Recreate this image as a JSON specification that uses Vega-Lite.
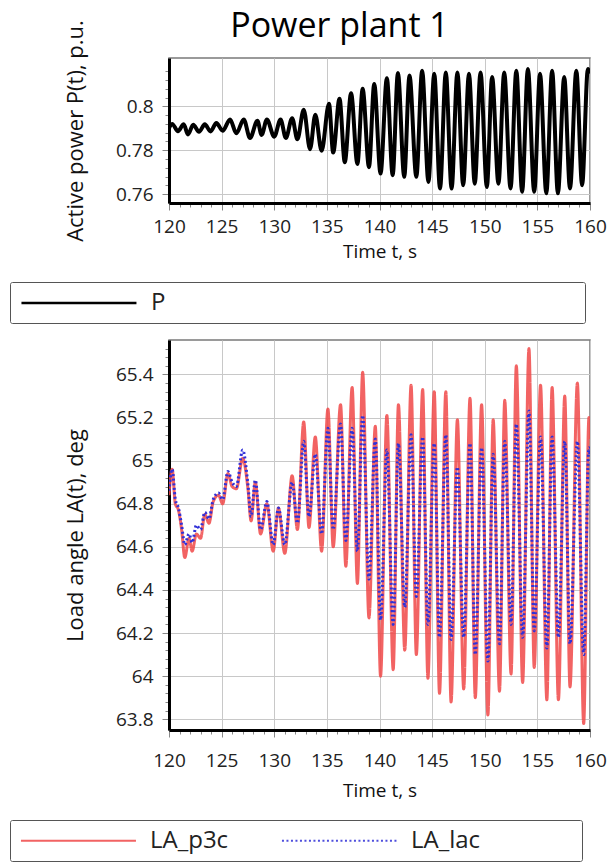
{
  "$schema": "https://vega.github.io/schema/vega-lite/v6.json",
  "background": "white",
  "padding": {"left": 8, "top": 8, "right": 0, "bottom": 0},
  "autosize": {"type": "pad"},
  "spacing": 13,
  "config": {
    "font": "Open Sans",
    "view": {"stroke": "#7a7a7a", "strokeWidth": 1.5},
    "axis": {
      "labelFont": "Open Sans", "labelFontSize": 19, "labelColor": "#222",
      "titleFont": "Open Sans", "titleFontWeight": "normal", "titleColor": "#111",
      "domainColor": "#000", "domainWidth": 3, "tickColor": "#888", "tickWidth": 1,
      "gridColor": "#c8c8c8", "gridWidth": 1, "labelOverlap": false, "labelFlush": false
    }
  },
  "resolve": {"scale": {"color": "independent", "strokeDash": "independent"}},
  "vconcat": [
    {
      "title": {"text": "Power plant 1", "fontSize": 34, "fontWeight": "normal", "font": "Open Sans", "color": "#000", "anchor": "middle", "dx": -40, "offset": -24},
      "width": 421,
      "height": 145,
      "data": {"values": [
        {"t": 120.0, "p": 0.7900, "series": "P"},
        {"t": 120.3, "p": 0.7920, "series": "P"},
        {"t": 120.85, "p": 0.7887, "series": "P"},
        {"t": 121.4, "p": 0.7918, "series": "P"},
        {"t": 121.8, "p": 0.7872, "series": "P"},
        {"t": 122.3, "p": 0.7916, "series": "P"},
        {"t": 122.85, "p": 0.7884, "series": "P"},
        {"t": 123.4, "p": 0.7918, "series": "P"},
        {"t": 123.95, "p": 0.7886, "series": "P"},
        {"t": 124.5, "p": 0.7924, "series": "P"},
        {"t": 125.1, "p": 0.7889, "series": "P"},
        {"t": 125.8, "p": 0.7940, "series": "P"},
        {"t": 126.4, "p": 0.7877, "series": "P"},
        {"t": 127.1, "p": 0.7940, "series": "P"},
        {"t": 127.7, "p": 0.7856, "series": "P"},
        {"t": 128.4, "p": 0.7934, "series": "P"},
        {"t": 128.8, "p": 0.7870, "series": "P"},
        {"t": 129.3, "p": 0.7940, "series": "P"},
        {"t": 130.0, "p": 0.7862, "series": "P"},
        {"t": 130.6, "p": 0.7940, "series": "P"},
        {"t": 131.1, "p": 0.7856, "series": "P"},
        {"t": 131.7, "p": 0.7946, "series": "P"},
        {"t": 132.2, "p": 0.7850, "series": "P"},
        {"t": 132.8, "p": 0.7985, "series": "P"},
        {"t": 133.4, "p": 0.7805, "series": "P"},
        {"t": 133.9, "p": 0.7962, "series": "P"},
        {"t": 134.5, "p": 0.7798, "series": "P"},
        {"t": 135.2, "p": 0.8012, "series": "P"},
        {"t": 135.6, "p": 0.7790, "series": "P"},
        {"t": 136.2, "p": 0.8035, "series": "P"},
        {"t": 136.7, "p": 0.7746, "series": "P"},
        {"t": 137.3, "p": 0.8060, "series": "P"},
        {"t": 137.9, "p": 0.7738, "series": "P"},
        {"t": 138.4, "p": 0.8080, "series": "P"},
        {"t": 139.0, "p": 0.7723, "series": "P"},
        {"t": 139.5, "p": 0.8102, "series": "P"},
        {"t": 140.1, "p": 0.7694, "series": "P"},
        {"t": 140.7, "p": 0.8128, "series": "P"},
        {"t": 141.25, "p": 0.7686, "series": "P"},
        {"t": 141.75, "p": 0.8152, "series": "P"},
        {"t": 142.35, "p": 0.7679, "series": "P"},
        {"t": 142.85, "p": 0.8140, "series": "P"},
        {"t": 143.5, "p": 0.7679, "series": "P"},
        {"t": 144.05, "p": 0.8162, "series": "P"},
        {"t": 144.65, "p": 0.7656, "series": "P"},
        {"t": 145.2, "p": 0.8148, "series": "P"},
        {"t": 145.75, "p": 0.7626, "series": "P"},
        {"t": 146.3, "p": 0.8154, "series": "P"},
        {"t": 146.85, "p": 0.7626, "series": "P"},
        {"t": 147.4, "p": 0.8154, "series": "P"},
        {"t": 147.95, "p": 0.7641, "series": "P"},
        {"t": 148.5, "p": 0.8148, "series": "P"},
        {"t": 149.05, "p": 0.7648, "series": "P"},
        {"t": 149.6, "p": 0.8154, "series": "P"},
        {"t": 150.2, "p": 0.7633, "series": "P"},
        {"t": 150.7, "p": 0.8134, "series": "P"},
        {"t": 151.3, "p": 0.7648, "series": "P"},
        {"t": 151.85, "p": 0.8154, "series": "P"},
        {"t": 152.45, "p": 0.7626, "series": "P"},
        {"t": 153.0, "p": 0.8162, "series": "P"},
        {"t": 153.55, "p": 0.7611, "series": "P"},
        {"t": 154.1, "p": 0.8170, "series": "P"},
        {"t": 154.7, "p": 0.7611, "series": "P"},
        {"t": 155.25, "p": 0.8148, "series": "P"},
        {"t": 155.85, "p": 0.7604, "series": "P"},
        {"t": 156.4, "p": 0.8162, "series": "P"},
        {"t": 156.95, "p": 0.7604, "series": "P"},
        {"t": 157.55, "p": 0.8134, "series": "P"},
        {"t": 158.1, "p": 0.7626, "series": "P"},
        {"t": 158.7, "p": 0.8162, "series": "P"},
        {"t": 159.25, "p": 0.7641, "series": "P"},
        {"t": 159.8, "p": 0.8170, "series": "P"},
        {"t": 160.0, "p": 0.8150, "series": "P"}
      ]},
      "mark": {"type": "line", "strokeWidth": 4, "interpolate": "monotone", "clip": true},
      "encoding": {
        "x": {
          "field": "t", "type": "quantitative", "title": "Time t, s",
          "scale": {"domain": [120, 160], "nice": false, "zero": false},
          "axis": {
            "values": [120,121,122,123,124,125,126,127,128,129,130,131,132,133,134,135,136,137,138,139,140,141,142,143,144,145,146,147,148,149,150,151,152,153,154,155,156,157,158,159,160],
            "labelExpr": "datum.value % 5 == 0 ? datum.label : ''",
            "tickSize": {"condition": {"test": "datum.value % 5 == 0", "value": 7}, "value": 4},
            "gridOpacity": {"condition": {"test": "datum.value % 5 == 0", "value": 1}, "value": 0},
            "labelPadding": 7, "titleFontSize": 19, "titlePadding": 6
          }
        },
        "y": {
          "field": "p", "type": "quantitative", "title": "Active power P(t), p.u.",
          "scale": {"domain": [0.756, 0.822], "nice": false, "zero": false},
          "axis": {
            "values": [0.76,0.764,0.768,0.772,0.776,0.78,0.784,0.788,0.792,0.796,0.8,0.804,0.808,0.812,0.816],
            "labelExpr": "abs(datum.value*50 - round(datum.value*50)) < 0.01 ? format(datum.value, '.2~f') : ''",
            "tickSize": {"condition": {"test": "abs(datum.value*50 - round(datum.value*50)) < 0.01", "value": 7}, "value": 4},
            "gridOpacity": {"condition": {"test": "abs(datum.value*50 - round(datum.value*50)) < 0.01", "value": 1}, "value": 0},
            "labelPadding": 9, "titleFontSize": 22, "titlePadding": 28
          }
        },
        "color": {
          "field": "series", "type": "nominal",
          "scale": {"domain": ["P"], "range": ["#000000"]},
          "legend": {
            "orient": "none", "legendX": -159, "legendY": 224, "direction": "horizontal", "title": null,
            "strokeColor": "#555", "fillColor": "white", "padding": 8, "cornerRadius": 2,
            "symbolType": "M-0.83,0H9.17", "symbolSize": 529, "symbolStrokeWidth": 2.5,
            "labelFont": "Open Sans", "labelFontSize": 24, "labelColor": "#222", "labelOffset": 107, "labelLimit": 2000,
            "labelExpr": "datum.label + '\u00a0\u00a0\u00a0\u00a0\u00a0\u00a0\u00a0\u00a0\u00a0\u00a0\u00a0\u00a0\u00a0\u00a0\u00a0\u00a0\u00a0\u00a0\u00a0\u00a0\u00a0\u00a0\u00a0\u00a0\u00a0\u00a0\u00a0\u00a0\u00a0\u00a0\u00a0\u00a0\u00a0\u00a0\u00a0\u00a0\u00a0\u00a0\u00a0\u00a0\u00a0\u00a0\u00a0\u00a0\u00a0\u00a0\u00a0\u00a0\u00a0\u00a0\u00a0\u00a0\u00a0\u00a0\u00a0\u00a0\u00a0\u00a0\u00a0\u00a0\u00a0\u00a0\u00a0\u00a0\u00a0\u00a0\u200b'"
          }
        }
      }
    },
    {
      "width": 421,
      "height": 390,
      "data": {"values": [
        {"t": 120.0, "la": 64.84, "series": "LA_p3c"}, {"t": 120.0, "la": 64.86, "series": "LA_lac"},
        {"t": 120.3, "la": 64.96, "series": "LA_p3c"}, {"t": 120.3, "la": 64.96, "series": "LA_lac"},
        {"t": 120.6, "la": 64.80, "series": "LA_p3c"}, {"t": 120.6, "la": 64.82, "series": "LA_lac"},
        {"t": 120.9, "la": 64.77, "series": "LA_p3c"}, {"t": 120.9, "la": 64.78, "series": "LA_lac"},
        {"t": 121.2, "la": 64.68, "series": "LA_p3c"}, {"t": 121.2, "la": 64.70, "series": "LA_lac"},
        {"t": 121.5, "la": 64.55, "series": "LA_p3c"}, {"t": 121.5, "la": 64.61, "series": "LA_lac"},
        {"t": 121.9, "la": 64.64, "series": "LA_p3c"}, {"t": 121.9, "la": 64.66, "series": "LA_lac"},
        {"t": 122.2, "la": 64.58, "series": "LA_p3c"}, {"t": 122.2, "la": 64.62, "series": "LA_lac"},
        {"t": 122.6, "la": 64.66, "series": "LA_p3c"}, {"t": 122.6, "la": 64.70, "series": "LA_lac"},
        {"t": 123.0, "la": 64.64, "series": "LA_p3c"}, {"t": 123.0, "la": 64.68, "series": "LA_lac"},
        {"t": 123.4, "la": 64.75, "series": "LA_p3c"}, {"t": 123.4, "la": 64.76, "series": "LA_lac"},
        {"t": 123.8, "la": 64.71, "series": "LA_p3c"}, {"t": 123.8, "la": 64.73, "series": "LA_lac"},
        {"t": 124.2, "la": 64.81, "series": "LA_p3c"}, {"t": 124.2, "la": 64.82, "series": "LA_lac"},
        {"t": 124.7, "la": 64.84, "series": "LA_p3c"}, {"t": 124.7, "la": 64.85, "series": "LA_lac"},
        {"t": 125.1, "la": 64.80, "series": "LA_p3c"}, {"t": 125.1, "la": 64.82, "series": "LA_lac"},
        {"t": 125.6, "la": 64.94, "series": "LA_p3c"}, {"t": 125.6, "la": 64.95, "series": "LA_lac"},
        {"t": 126.0, "la": 64.88, "series": "LA_p3c"}, {"t": 126.0, "la": 64.90, "series": "LA_lac"},
        {"t": 126.4, "la": 64.87, "series": "LA_p3c"}, {"t": 126.4, "la": 64.88, "series": "LA_lac"},
        {"t": 127.0, "la": 65.01, "series": "LA_p3c"}, {"t": 127.0, "la": 65.05, "series": "LA_lac"},
        {"t": 127.5, "la": 64.87, "series": "LA_p3c"}, {"t": 127.5, "la": 64.89, "series": "LA_lac"},
        {"t": 127.8, "la": 64.72, "series": "LA_p3c"}, {"t": 127.8, "la": 64.74, "series": "LA_lac"},
        {"t": 128.2, "la": 64.90, "series": "LA_p3c"}, {"t": 128.2, "la": 64.91, "series": "LA_lac"},
        {"t": 128.7, "la": 64.66, "series": "LA_p3c"}, {"t": 128.7, "la": 64.68, "series": "LA_lac"},
        {"t": 129.3, "la": 64.80, "series": "LA_p3c"}, {"t": 129.3, "la": 64.81, "series": "LA_lac"},
        {"t": 129.9, "la": 64.58, "series": "LA_p3c"}, {"t": 129.9, "la": 64.61, "series": "LA_lac"},
        {"t": 130.4, "la": 64.78, "series": "LA_p3c"}, {"t": 130.4, "la": 64.78, "series": "LA_lac"},
        {"t": 131.0, "la": 64.57, "series": "LA_p3c"}, {"t": 131.0, "la": 64.61, "series": "LA_lac"},
        {"t": 131.7, "la": 64.93, "series": "LA_p3c"}, {"t": 131.7, "la": 64.90, "series": "LA_lac"},
        {"t": 132.2, "la": 64.68, "series": "LA_p3c"}, {"t": 132.2, "la": 64.71, "series": "LA_lac"},
        {"t": 132.8, "la": 65.18, "series": "LA_p3c"}, {"t": 132.8, "la": 65.09, "series": "LA_lac"},
        {"t": 133.3, "la": 64.69, "series": "LA_p3c"}, {"t": 133.3, "la": 64.74, "series": "LA_lac"},
        {"t": 133.9, "la": 65.11, "series": "LA_p3c"}, {"t": 133.9, "la": 65.03, "series": "LA_lac"},
        {"t": 134.5, "la": 64.58, "series": "LA_p3c"}, {"t": 134.5, "la": 64.66, "series": "LA_lac"},
        {"t": 135.1, "la": 65.24, "series": "LA_p3c"}, {"t": 135.1, "la": 65.15, "series": "LA_lac"},
        {"t": 135.6, "la": 64.60, "series": "LA_p3c"}, {"t": 135.6, "la": 64.68, "series": "LA_lac"},
        {"t": 136.3, "la": 65.26, "series": "LA_p3c"}, {"t": 136.3, "la": 65.17, "series": "LA_lac"},
        {"t": 136.8, "la": 64.51, "series": "LA_p3c"}, {"t": 136.8, "la": 64.63, "series": "LA_lac"},
        {"t": 137.4, "la": 65.34, "series": "LA_p3c"}, {"t": 137.4, "la": 65.15, "series": "LA_lac"},
        {"t": 137.9, "la": 64.43, "series": "LA_p3c"}, {"t": 137.9, "la": 64.58, "series": "LA_lac"},
        {"t": 138.4, "la": 65.41, "series": "LA_p3c"}, {"t": 138.4, "la": 65.21, "series": "LA_lac"},
        {"t": 139.0, "la": 64.27, "series": "LA_p3c"}, {"t": 139.0, "la": 64.45, "series": "LA_lac"},
        {"t": 139.6, "la": 65.16, "series": "LA_p3c"}, {"t": 139.6, "la": 65.10, "series": "LA_lac"},
        {"t": 140.1, "la": 64.00, "series": "LA_p3c"}, {"t": 140.1, "la": 64.26, "series": "LA_lac"},
        {"t": 140.7, "la": 65.21, "series": "LA_p3c"}, {"t": 140.7, "la": 65.05, "series": "LA_lac"},
        {"t": 141.3, "la": 64.03, "series": "LA_p3c"}, {"t": 141.3, "la": 64.24, "series": "LA_lac"},
        {"t": 141.8, "la": 65.26, "series": "LA_p3c"}, {"t": 141.8, "la": 65.08, "series": "LA_lac"},
        {"t": 142.4, "la": 64.12, "series": "LA_p3c"}, {"t": 142.4, "la": 64.32, "series": "LA_lac"},
        {"t": 143.0, "la": 65.35, "series": "LA_p3c"}, {"t": 143.0, "la": 65.12, "series": "LA_lac"},
        {"t": 143.5, "la": 64.10, "series": "LA_p3c"}, {"t": 143.5, "la": 64.37, "series": "LA_lac"},
        {"t": 144.1, "la": 65.33, "series": "LA_p3c"}, {"t": 144.1, "la": 65.11, "series": "LA_lac"},
        {"t": 144.6, "la": 63.99, "series": "LA_p3c"}, {"t": 144.6, "la": 64.24, "series": "LA_lac"},
        {"t": 145.2, "la": 65.32, "series": "LA_p3c"}, {"t": 145.2, "la": 65.08, "series": "LA_lac"},
        {"t": 145.7, "la": 63.92, "series": "LA_p3c"}, {"t": 145.7, "la": 64.18, "series": "LA_lac"},
        {"t": 146.3, "la": 65.32, "series": "LA_p3c"}, {"t": 146.3, "la": 65.12, "series": "LA_lac"},
        {"t": 146.8, "la": 63.88, "series": "LA_p3c"}, {"t": 146.8, "la": 64.17, "series": "LA_lac"},
        {"t": 147.4, "la": 65.19, "series": "LA_p3c"}, {"t": 147.4, "la": 64.97, "series": "LA_lac"},
        {"t": 148.0, "la": 63.94, "series": "LA_p3c"}, {"t": 148.0, "la": 64.18, "series": "LA_lac"},
        {"t": 148.6, "la": 65.29, "series": "LA_p3c"}, {"t": 148.6, "la": 65.08, "series": "LA_lac"},
        {"t": 149.1, "la": 63.90, "series": "LA_p3c"}, {"t": 149.1, "la": 64.10, "series": "LA_lac"},
        {"t": 149.7, "la": 65.26, "series": "LA_p3c"}, {"t": 149.7, "la": 65.06, "series": "LA_lac"},
        {"t": 150.3, "la": 63.82, "series": "LA_p3c"}, {"t": 150.3, "la": 64.07, "series": "LA_lac"},
        {"t": 150.8, "la": 65.19, "series": "LA_p3c"}, {"t": 150.8, "la": 65.03, "series": "LA_lac"},
        {"t": 151.4, "la": 63.93, "series": "LA_p3c"}, {"t": 151.4, "la": 64.15, "series": "LA_lac"},
        {"t": 151.9, "la": 65.28, "series": "LA_p3c"}, {"t": 151.9, "la": 65.09, "series": "LA_lac"},
        {"t": 152.5, "la": 64.01, "series": "LA_p3c"}, {"t": 152.5, "la": 64.24, "series": "LA_lac"},
        {"t": 153.0, "la": 65.44, "series": "LA_p3c"}, {"t": 153.0, "la": 65.17, "series": "LA_lac"},
        {"t": 153.6, "la": 63.97, "series": "LA_p3c"}, {"t": 153.6, "la": 64.18, "series": "LA_lac"},
        {"t": 154.2, "la": 65.52, "series": "LA_p3c"}, {"t": 154.2, "la": 65.23, "series": "LA_lac"},
        {"t": 154.7, "la": 64.04, "series": "LA_p3c"}, {"t": 154.7, "la": 64.21, "series": "LA_lac"},
        {"t": 155.3, "la": 65.35, "series": "LA_p3c"}, {"t": 155.3, "la": 65.11, "series": "LA_lac"},
        {"t": 155.9, "la": 63.89, "series": "LA_p3c"}, {"t": 155.9, "la": 64.13, "series": "LA_lac"},
        {"t": 156.4, "la": 65.34, "series": "LA_p3c"}, {"t": 156.4, "la": 65.11, "series": "LA_lac"},
        {"t": 157.0, "la": 63.89, "series": "LA_p3c"}, {"t": 157.0, "la": 64.18, "series": "LA_lac"},
        {"t": 157.6, "la": 65.30, "series": "LA_p3c"}, {"t": 157.6, "la": 65.09, "series": "LA_lac"},
        {"t": 158.1, "la": 63.95, "series": "LA_p3c"}, {"t": 158.1, "la": 64.15, "series": "LA_lac"},
        {"t": 158.8, "la": 65.36, "series": "LA_p3c"}, {"t": 158.8, "la": 65.09, "series": "LA_lac"},
        {"t": 159.4, "la": 63.78, "series": "LA_p3c"}, {"t": 159.4, "la": 64.10, "series": "LA_lac"},
        {"t": 159.9, "la": 65.20, "series": "LA_p3c"}, {"t": 159.9, "la": 65.06, "series": "LA_lac"},
        {"t": 160.0, "la": 65.10, "series": "LA_p3c"}, {"t": 160.0, "la": 65.02, "series": "LA_lac"}
      ]},
      "encoding": {
        "x": {
          "field": "t", "type": "quantitative", "title": "Time t, s",
          "scale": {"domain": [120, 160], "nice": false, "zero": false},
          "axis": {
            "values": [120,121,122,123,124,125,126,127,128,129,130,131,132,133,134,135,136,137,138,139,140,141,142,143,144,145,146,147,148,149,150,151,152,153,154,155,156,157,158,159,160],
            "labelExpr": "datum.value % 5 == 0 ? datum.label : ''",
            "tickSize": {"condition": {"test": "datum.value % 5 == 0", "value": 7}, "value": 4},
            "gridOpacity": {"condition": {"test": "datum.value % 5 == 0", "value": 1}, "value": 0},
            "labelPadding": 14, "titleFontSize": 19, "titlePadding": 11
          }
        },
        "y": {
          "field": "la", "type": "quantitative", "title": "Load angle LA(t), deg",
          "scale": {"domain": [63.75, 65.56], "nice": false, "zero": false},
          "axis": {
            "values": [63.8,63.84,63.88,63.92,63.96,64,64.04,64.08,64.12,64.16,64.2,64.24,64.28,64.32,64.36,64.4,64.44,64.48,64.52,64.56,64.6,64.64,64.68,64.72,64.76,64.8,64.84,64.88,64.92,64.96,65,65.04,65.08,65.12,65.16,65.2,65.24,65.28,65.32,65.36,65.4,65.44,65.48,65.52],
            "labelExpr": "abs(datum.value*5 - round(datum.value*5)) < 0.01 ? format(datum.value, '.1~f') : ''",
            "tickSize": {"condition": {"test": "abs(datum.value*5 - round(datum.value*5)) < 0.01", "value": 7}, "value": 4},
            "gridOpacity": {"condition": {"test": "abs(datum.value*5 - round(datum.value*5)) < 0.01", "value": 1}, "value": 0},
            "labelPadding": 9, "titleFontSize": 22, "titlePadding": 28
          }
        },
        "color": {
          "field": "series", "type": "nominal",
          "scale": {"domain": ["LA_p3c", "LA_lac"], "range": ["#f04848", "#3030d8"]},
          "legend": {
            "orient": "none", "legendX": -159, "legendY": 480, "direction": "horizontal", "title": null,
            "strokeColor": "#555", "fillColor": "white", "padding": 8, "cornerRadius": 2, "columnPadding": 48,
            "symbolType": "M-0.83,0H9.17", "symbolSize": 529, "symbolStrokeWidth": 2,
            "labelFont": "Open Sans", "labelFontSize": 24, "labelColor": "#222", "labelOffset": 107, "labelLimit": 2000,
            "labelExpr": "datum.label == 'LA_lac' ? datum.label + '\u00a0\u00a0\u00a0\u00a0\u00a0\u00a0\u00a0\u00a0\u00a0\u00a0\u00a0\u00a0\u00a0\u00a0\u00a0\u200b' : datum.label"
          }
        },
        "strokeDash": {
          "field": "series", "type": "nominal",
          "scale": {"domain": ["LA_p3c", "LA_lac"], "range": [[1, 0], [2, 2.5]]},
          "legend": {
            "orient": "none", "legendX": -159, "legendY": 480, "direction": "horizontal", "title": null,
            "strokeColor": "#555", "fillColor": "white", "padding": 8, "cornerRadius": 2, "columnPadding": 48,
            "symbolType": "M-0.83,0H9.17", "symbolSize": 529, "symbolStrokeWidth": 2,
            "labelFont": "Open Sans", "labelFontSize": 24, "labelColor": "#222", "labelOffset": 107, "labelLimit": 2000,
            "labelExpr": "datum.label == 'LA_lac' ? datum.label + '\u00a0\u00a0\u00a0\u00a0\u00a0\u00a0\u00a0\u00a0\u00a0\u00a0\u00a0\u00a0\u00a0\u00a0\u00a0\u200b' : datum.label"
          }
        }
      },
      "layer": [
        {"transform": [{"filter": "datum.series == 'LA_p3c'"}], "mark": {"type": "line", "strokeWidth": 3, "opacity": 0.85, "interpolate": "monotone", "clip": true}},
        {"transform": [{"filter": "datum.series == 'LA_lac'"}], "mark": {"type": "line", "strokeWidth": 3, "interpolate": "monotone", "clip": true}}
      ]
    }
  ]
}
